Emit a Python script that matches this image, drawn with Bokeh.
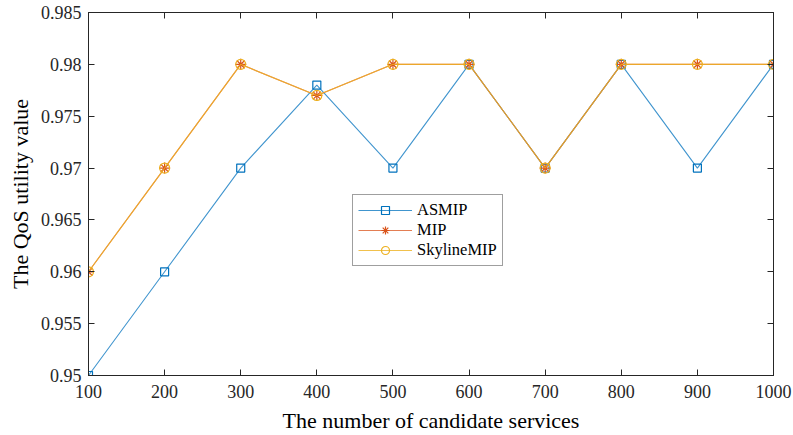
from bokeh.plotting import figure
from bokeh.models import Range1d, FixedTicker, LinearAxis, CustomJSTickFormatter, Legend, LegendItem
from bokeh.embed import file_html
from bokeh.resources import INLINE

x_vals = [100, 200, 300, 400, 500, 600, 700, 800, 900, 1000]
asmip = [0.95, 0.96, 0.97, 0.978, 0.97, 0.98, 0.97, 0.98, 0.97, 0.98]
mip = [0.96, 0.97, 0.98, 0.977, 0.98, 0.98, 0.97, 0.98, 0.98, 0.98]
skyline = [0.96, 0.97, 0.98, 0.977, 0.98, 0.98, 0.97, 0.98, 0.98, 0.98]
x_ticks = [100, 200, 300, 400, 500, 600, 700, 800, 900, 1000]
y_ticks = [0.95, 0.955, 0.96, 0.965, 0.97, 0.975, 0.98, 0.985]

FONT = "Liberation Serif"
AX = "#262626"

p = figure(width=793, height=435, output_backend="svg", toolbar_location=None,
           x_range=Range1d(100, 1000), y_range=Range1d(0.95, 0.985),
           min_border_left=88, min_border_right=20, min_border_top=12, min_border_bottom=59,
           x_axis_label="The number of candidate services", y_axis_label="The QoS utility value")
p.xgrid.visible = False
p.ygrid.visible = False
p.outline_line_color = AX
p.outline_line_width = 1
p.background_fill_color = "white"
p.border_fill_color = "white"

fmt = CustomJSTickFormatter(code="var s = tick.toFixed(3); s = s.replace(/0+$/, ''); return s;")

for ax in p.xaxis:
    ax.ticker = FixedTicker(ticks=x_ticks)
for ax in p.yaxis:
    ax.ticker = FixedTicker(ticks=y_ticks)
    ax.formatter = fmt

for ax in list(p.xaxis) + list(p.yaxis):
    ax.major_tick_in = 6
    ax.major_tick_out = 0
    ax.minor_tick_in = 0
    ax.minor_tick_out = 0
    ax.axis_line_color = AX
    ax.major_tick_line_color = AX
    ax.major_label_text_font = FONT
    ax.major_label_text_font_size = "18px"
    ax.major_label_text_color = "#262626"
    ax.axis_label_text_font = FONT
    ax.axis_label_text_font_size = "22px"
    ax.axis_label_text_font_style = "normal"
    ax.axis_label_text_color = "#000000"
p.xaxis.major_label_standoff = 9
p.yaxis.major_label_standoff = 7
p.xaxis.axis_label_standoff = 7
p.yaxis.axis_label_standoff = 5

top = LinearAxis(ticker=FixedTicker(ticks=x_ticks), major_label_text_font_size="0px",
                 major_tick_in=6, major_tick_out=0, minor_tick_in=0, minor_tick_out=0,
                 axis_line_color=AX, major_tick_line_color=AX, major_label_text_alpha=0)
right = LinearAxis(ticker=FixedTicker(ticks=y_ticks), major_label_text_font_size="0px",
                   major_tick_in=6, major_tick_out=0, minor_tick_in=0, minor_tick_out=0,
                   axis_line_color=AX, major_tick_line_color=AX, major_label_text_alpha=0)
p.add_layout(top, "above")
p.add_layout(right, "right")

C1 = "#0072BD"
C2 = "#D95319"
C3 = "#EDB120"

l1 = p.line(x_vals, asmip, line_color=C1, line_width=1.1, alpha=0.75)
m1 = p.scatter(x_vals, asmip, marker="square", size=8, line_color=C1, fill_color=None, line_width=1.2)
l2 = p.line(x_vals, mip, line_color=C2, line_width=1.1, alpha=0.75)
m2 = p.scatter(x_vals, mip, marker="asterisk", size=11, line_color=C2, line_width=1.2)
l3 = p.line(x_vals, skyline, line_color=C3, line_width=1.1, alpha=0.8)
m3 = p.scatter(x_vals, skyline, marker="circle", size=10, line_color=C3, fill_color=None, line_width=1.2)

legend = Legend(items=[LegendItem(label="ASMIP", renderers=[l1, m1]),
                       LegendItem(label="MIP", renderers=[l2, m2]),
                       LegendItem(label="SkylineMIP", renderers=[l3, m3])],
                location=(264, 109))
legend.label_text_font = FONT
legend.label_text_font_size = "16.5px"
legend.label_text_color = "#000000"
legend.border_line_color = "#404040"
legend.border_line_width = 1
legend.glyph_width = 54
legend.glyph_height = 20
legend.label_height = 20
legend.spacing = 0
legend.padding = 5
legend.margin = 0
legend.label_standoff = 5
legend.background_fill_color = "white"
p.add_layout(legend, "center")

open("out.html", "w").write(file_html(p, INLINE))
